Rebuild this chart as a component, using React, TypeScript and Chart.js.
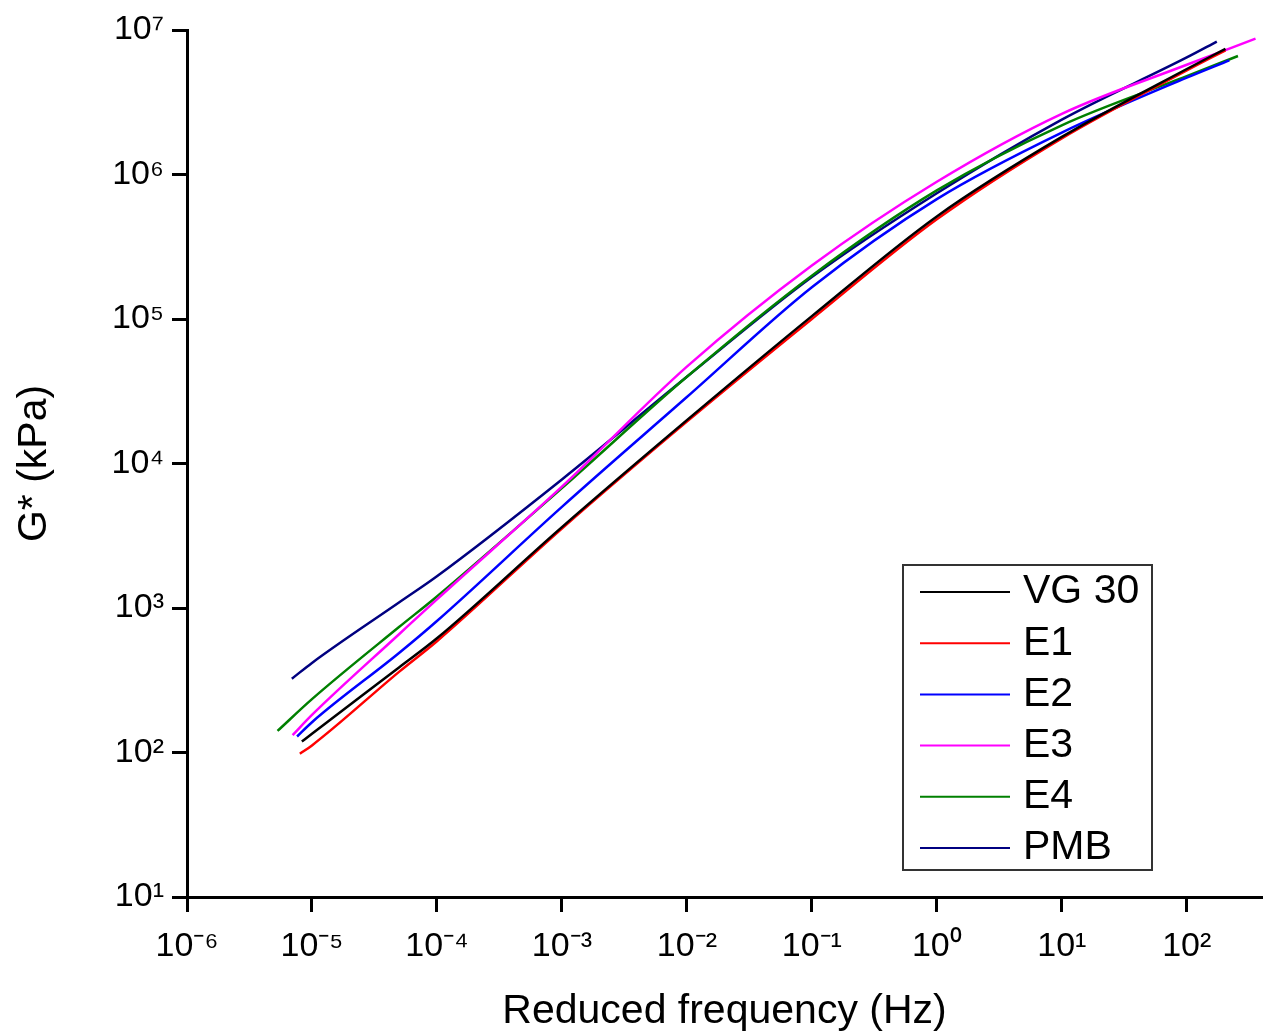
import React, { useEffect, useRef } from "react";
import { Chart, registerables } from "chart.js";

Chart.register(...registerables);

// ---- Data ----
const seriesNames = ["VG 30", "E1", "E2", "E3", "E4", "PMB"];
const seriesColors = ["#000000", "#ff0000", "#0000ff", "#ff00ff", "#008000", "#000080"];

const vg30Freq = [8.3e-6, 1e-5, 5e-5, 1e-4, 1e-3, 1e-2, 1e-1, 1, 10, 100, 204];
const vg30G = [119, 135, 389, 617, 3631, 19953, 104713, 512861, 1.82e6, 5.37e6, 7.41e6];

const e1Freq = [8.0e-6, 1e-5, 5e-5, 1e-4, 1e-3, 1e-2, 1e-1, 1, 10, 100, 204];
const e1G = [98, 112, 363, 589, 3548, 19498, 100000, 489779, 1.78e6, 5.25e6, 7.24e6];

const e2Freq = [7.6e-6, 1e-5, 5e-5, 1e-4, 1e-3, 1e-2, 1e-1, 1, 10, 100, 219];
const e2G = [129, 162, 490, 813, 5012, 28840, 165959, 676083, 1.95e6, 4.68e6, 6.17e6];

const e3Freq = [7.0e-6, 1e-5, 5e-5, 1e-4, 1e-3, 1e-2, 1e-1, 1, 10, 100, 355];
const e3G = [132, 182, 661, 1148, 6918, 46774, 234423, 891251, 2.63e6, 5.75e6, 8.71e6];

const e4Freq = [5.3e-6, 1e-5, 5e-5, 1e-4, 1e-3, 1e-2, 1e-1, 1, 10, 100, 257];
const e4G = [141, 234, 741, 1202, 6761, 39811, 199526, 776247, 2.19e6, 4.79e6, 6.61e6];

const pmbFreq = [6.9e-6, 1e-5, 5e-5, 1e-4, 1e-3, 1e-2, 1e-1, 1, 10, 100, 174];
const pmbG = [324, 417, 1096, 1660, 7762, 39811, 194984, 741310, 2.40e6, 6.46e6, 8.32e6];

const xTickValues = [1e-6, 1e-5, 1e-4, 1e-3, 1e-2, 1e-1, 1, 10, 100];
const yTickValues = [10, 100, 1e3, 1e4, 1e5, 1e6, 1e7];

const xTitle = "Reduced frequency (Hz)";
const yTitle = "G* (kPa)";

const allFreq = [vg30Freq, e1Freq, e2Freq, e3Freq, e4Freq, pmbFreq];
const allG = [vg30G, e1G, e2G, e3G, e4G, pmbG];

const SUP: Record<string, string> = {
  "-": "\u207B", "0": "\u2070", "1": "\u00B9", "2": "\u00B2", "3": "\u00B3",
  "4": "\u2074", "5": "\u2075", "6": "\u2076", "7": "\u2077", "8": "\u2078", "9": "\u2079",
};
const powLabel = (v: number) => {
  const e = Math.round(Math.log10(v));
  return "10" + String(e).split("").map((c) => SUP[c] || c).join("");
};

const FONT = '"Liberation Sans", Arial, Helvetica, sans-serif';

const boxLegend = {
  id: "boxLegend",
  afterDraw(chart: any) {
    const ctx = chart.ctx as CanvasRenderingContext2D;
    const ca = chart.chartArea;
    const x0 = ca.right - 359;
    const y0 = ca.top + 535;
    const w = 249;
    const h = 305;
    ctx.save();
    ctx.fillStyle = "#ffffff";
    ctx.fillRect(x0, y0, w, h);
    ctx.strokeStyle = "#333333";
    ctx.lineWidth = 2;
    ctx.strokeRect(x0, y0, w, h);
    ctx.font = "41px " + FONT;
    ctx.textBaseline = "middle";
    ctx.textAlign = "left";
    chart.data.datasets.forEach((ds: any, i: number) => {
      const y = y0 + 27 + i * 51.2;
      ctx.strokeStyle = ds.borderColor;
      ctx.lineWidth = 2;
      ctx.beginPath();
      ctx.moveTo(x0 + 17, y);
      ctx.lineTo(x0 + 107, y);
      ctx.stroke();
      ctx.fillStyle = "#000000";
      ctx.fillText(ds.label, x0 + 120, y);
    });
    ctx.restore();
  },
};

export default function App() {
  const ref = useRef<HTMLCanvasElement | null>(null);

  useEffect(() => {
    if (!ref.current) return;
    const datasets = seriesNames.map((name, i) => ({
      label: name,
      data: allFreq[i].map((f, j) => ({ x: f, y: allG[i][j] })),
      borderColor: seriesColors[i],
      backgroundColor: seriesColors[i],
      borderWidth: 2.5,
      pointRadius: 0,
      fill: false,
      cubicInterpolationMode: "monotone" as const,
    }));

    const chart = new Chart(ref.current, {
      type: "line",
      data: { datasets },
      plugins: [boxLegend],
      options: {
        animation: false,
        responsive: false,
        layout: { padding: { top: 30, right: 7, left: 0, bottom: 0 } },
        plugins: {
          legend: { display: false },
          tooltip: { enabled: false },
        },
        scales: {
          x: {
            type: "logarithmic",
            min: 1e-6,
            max: 400,
            afterBuildTicks: (scale: any) => {
              scale.ticks = xTickValues.map((v) => ({ value: v }));
            },
            afterFit: (scale: any) => {
              scale.height = 139;
            },
            border: { display: true, color: "#000", width: 3 },
            grid: {
              display: true,
              drawOnChartArea: false,
              drawTicks: true,
              tickLength: 15,
              tickWidth: 3,
              tickColor: "#000",
              color: "#000",
            },
            ticks: {
              autoSkip: false,
              maxRotation: 0,
              padding: 14,
              color: "#000",
              font: { family: FONT, size: 34 },
              callback: (v: any) => powLabel(Number(v)),
            },
            title: {
              display: true,
              text: xTitle,
              color: "#000",
              font: { family: FONT, size: 41 },
              padding: { top: 0, bottom: 0 },
            },
          },
          y: {
            type: "logarithmic",
            min: 10,
            max: 1e7,
            afterBuildTicks: (scale: any) => {
              scale.ticks = yTickValues.map((v) => ({ value: v }));
            },
            afterFit: (scale: any) => {
              scale.width = 187;
            },
            border: { display: true, color: "#000", width: 3 },
            grid: {
              display: true,
              drawOnChartArea: false,
              drawTicks: true,
              tickLength: 15,
              tickWidth: 3,
              tickColor: "#000",
              color: "#000",
            },
            ticks: {
              autoSkip: false,
              padding: 8,
              color: "#000",
              font: { family: FONT, size: 34 },
              callback: (v: any) => powLabel(Number(v)),
            },
            title: {
              display: true,
              text: yTitle,
              color: "#000",
              font: { family: FONT, size: 41 },
              padding: { top: 10, bottom: 0 },
            },
          },
        },
      },
    });
    return () => chart.destroy();
  }, []);

  return (
    <div style={{ position: "fixed", left: 0, top: 0, width: 1269, height: 1036, background: "#fff" }}>
      <canvas ref={ref} width={1269} height={1036} style={{ width: 1269, height: 1036 }} />
    </div>
  );
}
